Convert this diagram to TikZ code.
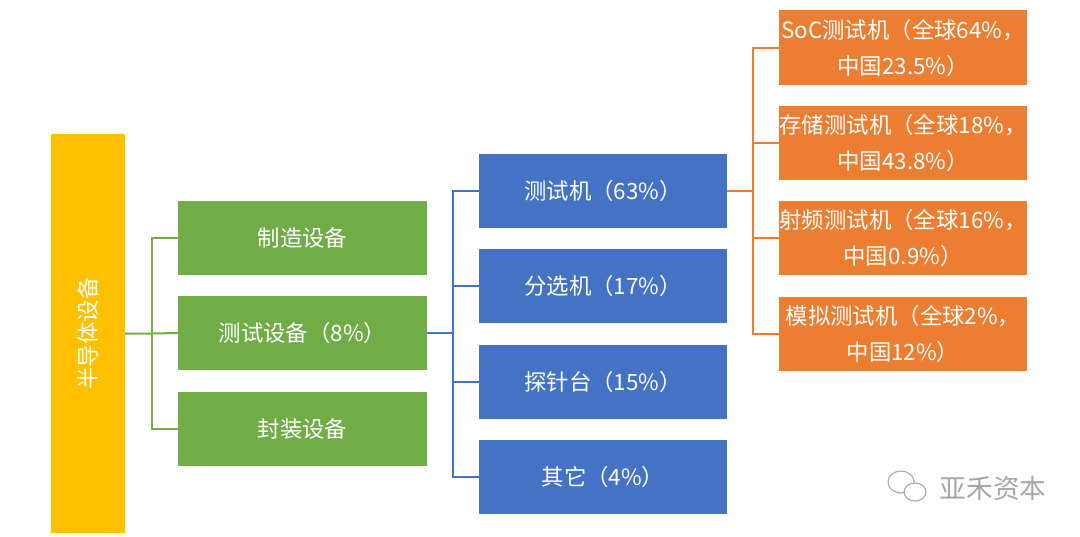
\documentclass[tikz,border=0pt]{standalone}
\usepackage{fontspec}
\newfontfamily\cjk{Noto Sans CJK SC}
\definecolor{gold}{HTML}{FFC000}
\definecolor{leaf}{HTML}{70AD47}
\definecolor{sea}{HTML}{4472C4}
\definecolor{rust}{HTML}{ED7D31}
\definecolor{wmgray}{HTML}{A6A6A6}

\begin{document}
\begin{tikzpicture}[x=0.75pt, y=-0.75pt,
  box/.style={inner sep=0pt, outer sep=0pt, text=white, align=center,
    font=\cjk\fontsize{16.8}{27}\selectfont},
  gbox/.style={box, fill=leaf, minimum width=186.75pt, minimum height=55.5pt},
  bbox/.style={box, fill=sea, minimum width=186pt, minimum height=55.5pt},
  obox/.style={box, fill=rust, minimum width=186pt, minimum height=56pt},
  link/.style={line width=1.5pt}]
\useasboundingbox (0,0) rectangle (1080,536);

\node[box, fill=gold, minimum width=55.5pt, minimum height=299.25pt](root) at (88,333.5) {};
\node[box, rotate=90] at (root.center) {半导体设备};

\node[gbox](m1) at (302.5,238) {制造设备};
\node[gbox](m2) at (302.5,333) {测试设备（8\%）};
\node[gbox](m3) at (302.5,429) {封装设备};

\node[bbox](t1) at (603,191) {测试机（63\%）};
\node[bbox](t2) at (603,286) {分选机（17\%）};
\node[bbox](t3) at (603,382) {探针台（15\%）};
\node[bbox](t4) at (603,477) {其它（4\%）};

\node[obox](s1) at (903,47.5) {SoC测试机（全球64\%，\\中国23.5\%）};
\node[obox](s2) at (903,143) {存储测试机（全球18\%，\\中国43.8\%）};
\node[obox](s3) at (903,238) {射频测试机（全球16\%，\\中国0.9\%）};
\node[obox](s4) at (903,334) {模拟测试机（全球2\%，\\中国12\%）};

% connectors
\draw[link, leaf] (root.east) -- ++(27,0) coordinate(gb) -- (m2.west);
\draw[link, leaf] (m1.west) -| (gb) |- (m3.west);
\draw[link, sea] (m2.east) -- ++(26,0) coordinate(bb);
\draw[link, sea] (t1.west) -| (bb) |- (t4.west);
\draw[link, sea] (bb |- t2.west) -- (t2.west);
\draw[link, sea] (bb |- t3.west) -- (t3.west);
\draw[link, rust] (t1.east) -- ++(26,0) coordinate(ob);
\draw[link, rust] (s1.west) -| (ob) |- (s4.west);
\draw[link, rust] (ob |- s2.west) -- (s2.west);
\draw[link, rust] (ob |- s3.west) -- (s3.west);

% watermark
\draw[wmgray, line width=0.8pt] (901,482) ellipse (13 and 11);
\draw[wmgray, line width=0.8pt, fill=white] (915,492) ellipse (11 and 9);
\node[text=wmgray, font=\cjk\fontsize{20}{20}\selectfont, anchor=west](wm) at (935,488) {亚禾资本};
\end{tikzpicture}
\end{document}
